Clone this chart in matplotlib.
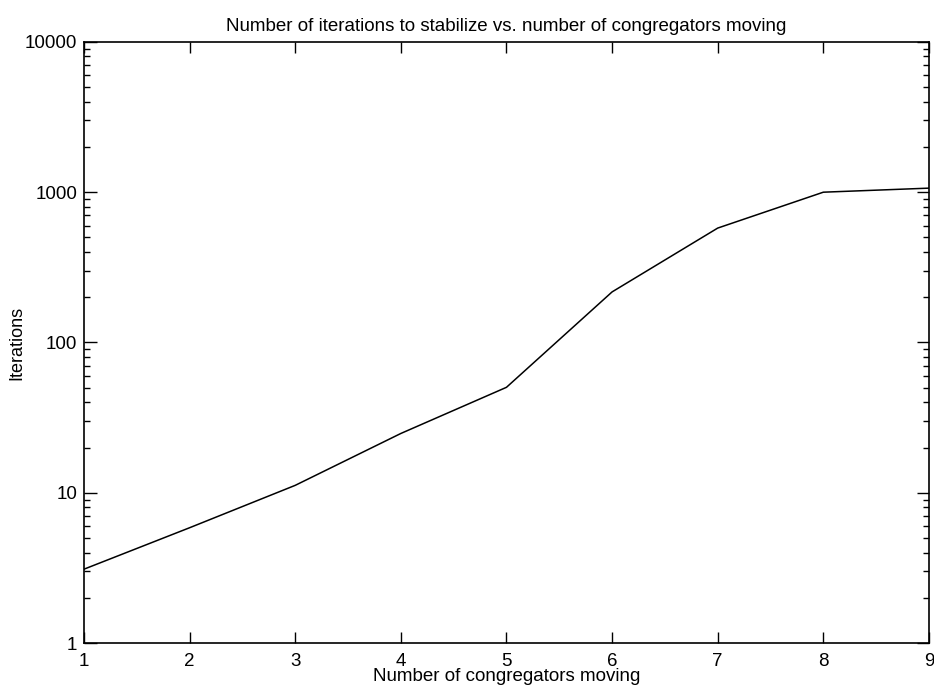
import matplotlib
matplotlib.use("Agg")
import matplotlib.pyplot as plt
from matplotlib.ticker import LogLocator, FixedLocator, NullFormatter

# data
congregators = [1, 2, 3, 4, 5, 6, 7, 8, 9]
iterations = [3.1, 5.85, 11.2, 24.8, 50.3, 217, 577, 1000, 1064]
ytick_vals = [1, 10, 100, 1000, 10000]
ytick_labels = ["1", "10", "100", "1000", "10000"]

plt.rcParams['font.family'] = ['Liberation Sans', 'DejaVu Sans']

fig = plt.figure(figsize=(9.34, 6.87), dpi=100)
ax = fig.add_axes([0.0899, 0.064, 0.9047, 0.875])

ax.plot(congregators, iterations, color='black', linewidth=1.1)

ax.set_yscale('log')
ax.set_xlim(1, 9)
ax.set_ylim(1, 10000)

ax.xaxis.set_major_locator(FixedLocator(congregators))
ax.set_xticklabels([str(c) for c in congregators], fontsize=13.5)
ax.yaxis.set_major_locator(FixedLocator(ytick_vals))
ax.set_yticklabels(ytick_labels, fontsize=13.5)
ax.yaxis.set_minor_locator(LogLocator(base=10, subs=range(2, 10)))
ax.yaxis.set_minor_formatter(NullFormatter())

ax.tick_params(axis='both', which='both', direction='in', top=True, right=True, color='black')
ax.tick_params(axis='x', which='major', length=8, width=1, pad=7)
ax.tick_params(axis='y', which='major', length=9, width=1, pad=5)
ax.tick_params(axis='y', which='minor', length=4, width=1)

for s in ax.spines.values():
    s.set_linewidth(1.2)

ax.set_title("Number of iterations to stabilize vs. number of congregators moving", fontsize=13.5, pad=8)
ax.set_xlabel("Number of congregators moving", fontsize=13.5, labelpad=-1)
ax.set_ylabel("Iterations", fontsize=13)
ax.yaxis.set_label_coords(-0.069, 0.5)

fig.savefig("out.png", dpi=100)
